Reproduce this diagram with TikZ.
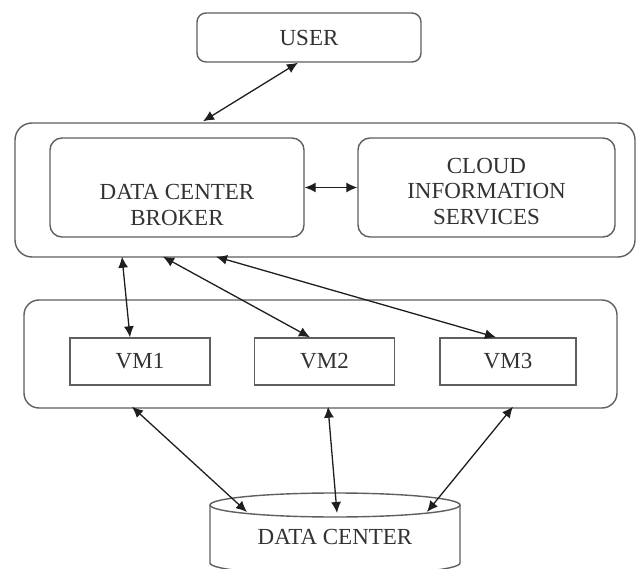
\documentclass[tikz,border=0pt]{standalone}
\usepackage{fontspec}
\setmainfont{Liberation Serif}
\usetikzlibrary{arrows.meta,calc}
\definecolor{edge}{RGB}{95,95,95}
\definecolor{ink}{RGB}{50,50,50}
\definecolor{arr}{RGB}{30,30,30}
\begin{document}
\begin{tikzpicture}[x=1pt,y=-1pt,
  box/.style={draw=edge,line width=1.4pt,fill=white,rounded corners=#1,inner sep=0pt},
  box/.default=10pt,
  lbl/.style={text=ink,font=\fontsize{23}{25.5}\selectfont,align=center,inner sep=0pt},
  link/.style={draw=arr,line width=1.3pt,{Latex[length=11pt,width=10pt]}-{Latex[length=11pt,width=10pt]}}]
\useasboundingbox (0,0) rectangle (640,569);
% user
\node[box=9pt,minimum width=224pt,minimum height=49pt] (user) at (309,37.5) {};
\node[lbl] (usert) at (309,38) {USER};
% outer container
\node[box=17pt,minimum width=620pt,minimum height=134pt] (outer) at (325,190) {};
\node[box=12pt,minimum width=254pt,minimum height=99pt] (broker) at (177,187.5) {};
\node[lbl] (brokert) at (177,205) {DATA CENTER\\BROKER};
\node[box=12pt,minimum width=257pt,minimum height=99pt] (cis) at (486.5,187.5) {};
\node[lbl] (cist) at (486.5,191.5) {CLOUD\\INFORMATION\\SERVICES};
% VM container
\node[box=15pt,minimum width=593pt,minimum height=108pt] (vmc) at (320.5,354) {};
\node[box=0pt,minimum width=140pt,minimum height=47pt] (vm1) at (140,361.5) {};
\node[lbl] (vm1t) at (140,361) {VM1};
\node[box=0pt,minimum width=140pt,minimum height=47pt] (vm2) at (324.5,361.5) {};
\node[lbl] (vm2t) at (324.5,361) {VM2};
\node[box=0pt,minimum width=136pt,minimum height=47pt] (vm3) at (508,361.5) {};
\node[lbl] (vm3t) at (508,361) {VM3};
% data center cylinder
\coordinate (dctop) at (335,505);
\filldraw[draw=edge,line width=1.4pt,fill=white]
  (210,505) -- (210,563) arc[start angle=180,end angle=360,x radius=125pt,y radius=12pt] -- (460,505);
\filldraw[draw=edge,line width=1.4pt,fill=white] (dctop) ellipse[x radius=125pt,y radius=12pt];
\node[lbl] (dct) at (335,537) {DATA CENTER};
% connectors
\draw[link] ([xshift=-11pt]user.south) -- ([xshift=-122pt,yshift=1pt]outer.north);
\draw[link] (broker.east) -- (cis.west);
\draw[link] ([xshift=-203pt,yshift=1pt]outer.south) -- ([xshift=-10pt]vm1.north);
\draw[link] ([xshift=-162pt,yshift=1pt]outer.south) -- ([xshift=-14.5pt]vm2.north);
\draw[link] ([xshift=-109pt,yshift=1pt]outer.south) -- ([xshift=-12pt]vm3.north);
\draw[link] ([xshift=-188.5pt,yshift=2pt]vmc.south) -- ($(dctop)+(-88,7)$);
\draw[link] ([xshift=7.5pt,yshift=2pt]vmc.south) -- ($(dctop)+(2,8)$);
\draw[link] ([xshift=192.5pt,yshift=2pt]vmc.south) -- ($(dctop)+(92,7)$);
\end{tikzpicture}
\end{document}
